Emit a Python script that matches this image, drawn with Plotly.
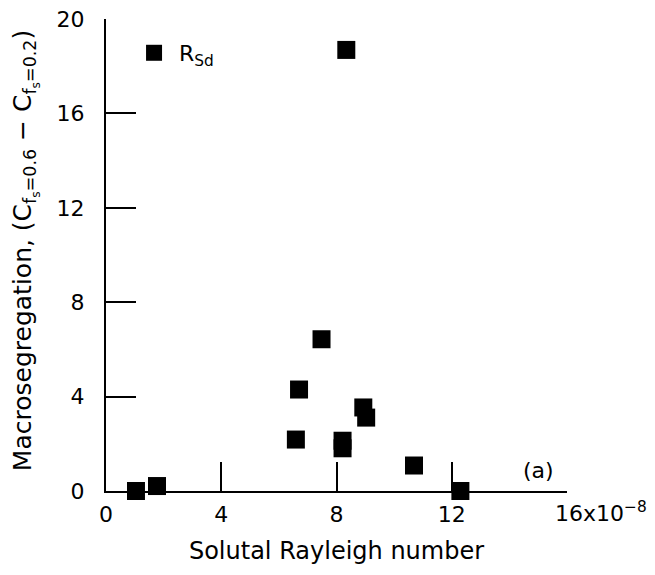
import plotly.graph_objects as go

# Data (solutal Rayleigh number in units of 1e-8, macrosegregation)
rayleigh = [1.04, 1.77, 6.59, 6.70, 7.48, 8.21, 8.21, 8.93, 9.03, 10.69, 12.30, 8.34]
macroseg = [0.0, 0.21, 2.18, 4.30, 6.43, 2.13, 1.81, 3.54, 3.11, 1.08, 0.0, 18.69]

x_ticks = [0, 4, 8, 12, 16]
x_ticktext = ["0", "4", "8", "12", ""]
y_ticks = [0, 4, 8, 12, 16, 20]

FONT = "DejaVu Sans, Liberation Sans, Arial, sans-serif"

fig = go.Figure()
fig.add_trace(go.Scatter(
    x=rayleigh, y=macroseg, mode="markers",
    name="R<sub>Sd</sub>",
    marker=dict(symbol="square", size=18, color="black"),
    cliponaxis=False,
))

fig.update_layout(
    width=655, height=575,
    margin=dict(l=106, r=88, t=19, b=84, autoexpand=False),
    paper_bgcolor="white", plot_bgcolor="white",
    font=dict(family=FONT, size=22, color="black"),
    showlegend=True,
    legend=dict(x=0.05, y=0.928, xanchor="left", yanchor="middle",
                bgcolor="rgba(0,0,0,0)", font=dict(size=22),
                itemsizing="trace", itemwidth=40),
    xaxis=dict(range=[0, 16], tickvals=x_ticks, ticktext=x_ticktext,
               ticks="inside", ticklen=29, tickwidth=2, tickcolor="black",
               showline=True, linecolor="black", linewidth=2,
               showgrid=False, zeroline=False, ticklabelstandoff=3,
               tickfont=dict(size=22),
               title=dict(text="Solutal Rayleigh number", standoff=16,
                          font=dict(size=24))),
    yaxis=dict(range=[0, 20], tickvals=y_ticks,
               ticks="inside", ticklen=30, tickwidth=2, tickcolor="black",
               showline=True, linecolor="black", linewidth=2,
               showgrid=False, zeroline=False, ticklabelstandoff=15,
               tickfont=dict(size=22)),
)

fig.add_annotation(
    x=16, y=0, xref="x", yref="paper", xanchor="left", yanchor="top",
    xshift=-14, yshift=-5, showarrow=False,
    text="16x10<sup>−8</sup>", font=dict(size=22),
)
fig.add_annotation(
    x=15.0, y=0.88, xref="x", yref="y", showarrow=False,
    text="(a)", font=dict(size=22),
)
fig.add_annotation(
    x=-0.176, y=0.51, xref="paper", yref="paper", showarrow=False,
    xanchor="center", yanchor="middle", textangle=-90,
    text="Macrosegregation, (C<sub>f<sub>s</sub>=0.6</sub> − C<sub>f<sub>s</sub>=0.2</sub>)",
    font=dict(size=25),
)

fig.write_html("out.html")
